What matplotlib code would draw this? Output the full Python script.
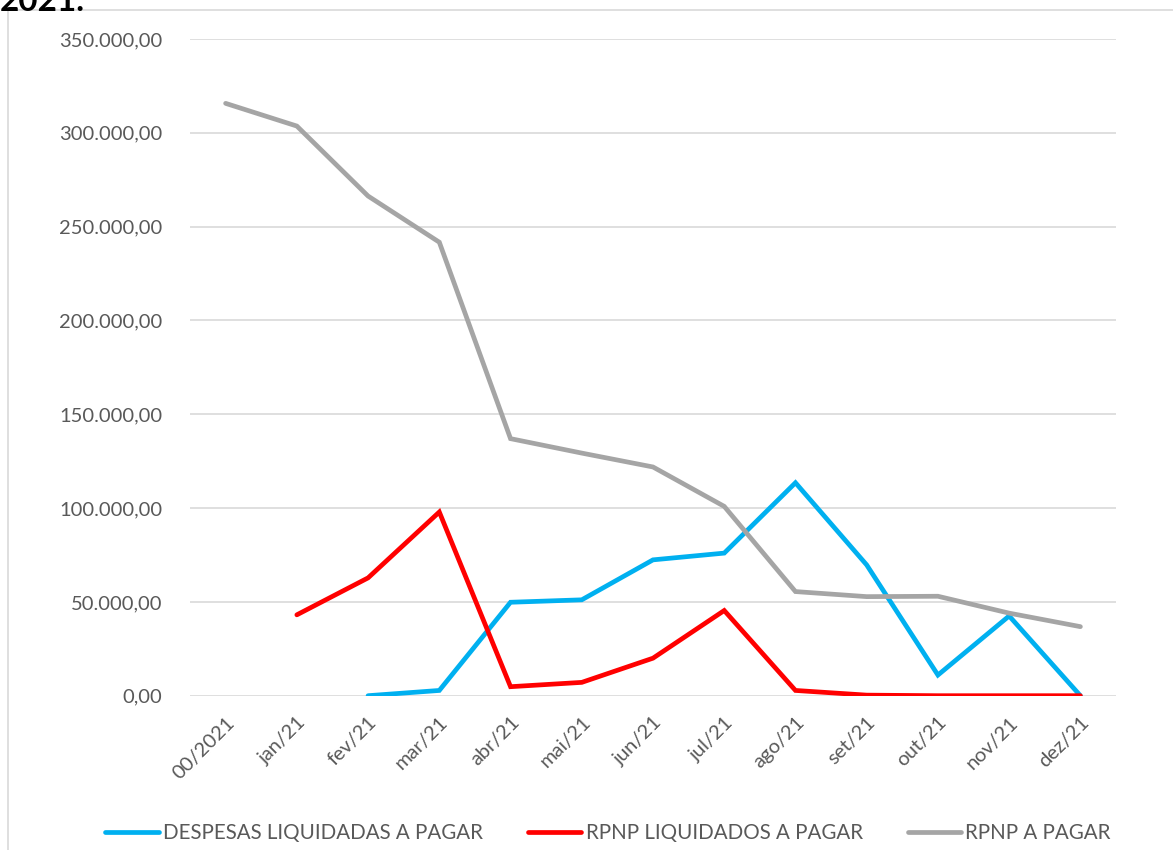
import numpy as np
import matplotlib
matplotlib.use("Agg")
import matplotlib.pyplot as plt
from matplotlib.ticker import FuncFormatter
from matplotlib.patches import Rectangle

# meses do grafico (categorias)
meses = ["00/2021", "jan/21", "fev/21", "mar/21", "abr/21", "mai/21", "jun/21",
         "jul/21", "ago/21", "set/21", "out/21", "nov/21", "dez/21"]

nan = np.nan
despesas_liq = [nan, nan, 0, 2800, 49800, 51100, 72400, 76000, 113500, 69700, 11000, 42500, 0]
rpnp_liq = [nan, 43100, 62800, 97900, 4800, 7100, 20000, 45400, 2800, 300, 0, 0, 0]
rpnp_pagar = [315700, 303600, 266300, 241700, 137000, 129300, 121900, 100900, 55500, 52800, 53000, 44000, 36800]

nomes = ["DESPESAS LIQUIDADAS A PAGAR", "RPNP LIQUIDADOS A PAGAR", "RPNP A PAGAR"]
cores = ["#00B0F0", "#FF0000", "#A5A5A5"]

plt.rcParams['font.family'] = ['Lato', 'DejaVu Sans']

fig = plt.figure(figsize=(11.73, 8.5), dpi=100)
ax = fig.add_axes([190 / 1173, 154.3 / 850, 926 / 1173, 656.7 / 850])

x = np.arange(len(meses))
for serie, nome, cor in zip([despesas_liq, rpnp_liq, rpnp_pagar], nomes, cores):
    ax.plot(x, serie, color=cor, lw=3.4, label=nome, solid_capstyle='round', solid_joinstyle='miter')


def fmt_br(v, pos):
    s = f"{v:,.2f}"
    return s.replace(",", "X").replace(".", ",").replace("X", ".")


ax.set_ylim(0, 350000)
ax.set_xlim(-0.5, len(meses) - 0.5)
ax.set_yticks(np.arange(0, 350001, 50000))
ax.yaxis.set_major_formatter(FuncFormatter(fmt_br))
ax.set_xticks(x)
ax.set_xticklabels(meses, rotation=45, ha='right', rotation_mode='anchor')
ax.tick_params(axis='both', length=0, labelsize=14.5, labelcolor='#595959')
ax.tick_params(axis='y', pad=20)
ax.tick_params(axis='x', pad=13)
ax.grid(axis='y', color='#D9D9D9', lw=1.2)
ax.set_axisbelow(True)
for s in ax.spines.values():
    s.set_visible(False)

# borda do grafico (cortada como no print)
fig.patches.append(Rectangle((8 / 1173, -0.1), 1.2, (840 / 850) + 0.1, transform=fig.transFigure,
                             fill=False, edgecolor='#D9D9D9', lw=1.2))

# titulo cortado no topo, como no original
fig.text(0, 1.0 + 13 / 850, "2021.", fontsize=24, fontweight='bold', va='top', ha='left')

fig.legend(loc='center', bbox_to_anchor=(608 / 1173, 17 / 850), ncol=3, frameon=False,
           fontsize=14.8, labelcolor='#595959', handlelength=2.6, handletextpad=0.2,
           columnspacing=2.2)

fig.savefig("out.png", dpi=100)
